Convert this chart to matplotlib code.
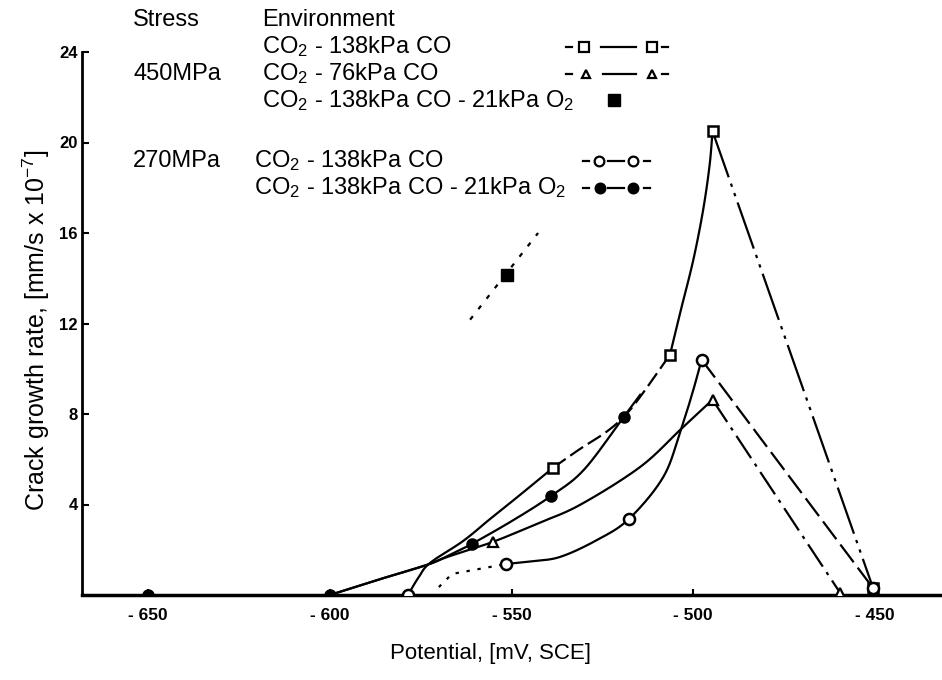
import numpy as np
import matplotlib
matplotlib.use("Agg")
import matplotlib.pyplot as plt

plt.rcParams['font.family'] = ['Liberation Sans', 'DejaVu Sans']
plt.rcParams['mathtext.fontset'] = 'custom'
plt.rcParams['mathtext.rm'] = 'Liberation Sans'
plt.rcParams['mathtext.it'] = 'Liberation Sans:italic'
plt.rcParams['mathtext.bf'] = 'Liberation Sans:bold'

# ---------------- data ----------------
x_ticks = [-650, -600, -550, -500, -450]
x_tick_labels = ["- 650", "- 600", "- 550", "- 500", "- 450"]
y_ticks = [4, 8, 12, 16, 20, 24]
y_tick_labels = ["4", "8", "12", "16", "20", "24"]

# 450 MPa, CO2 - 138kPa CO (open squares): three traced pieces + straight descent
sq_a_x = [-578.5, -575.5, -572.4, -563.3, -555.9, -547.7, -538.6]
sq_a_y = [0.0, 0.8, 1.42, 2.39, 3.36, 4.42, 5.62]
sq_b_x = [-538.6, -531.2, -524.0, -519.1, -514.6, -506.4]
sq_b_y = [5.62, 6.45, 7.2, 7.88, 8.76, 10.62]
sq_c_x = [-506.4, -503.4, -500.0, -497.3, -495.5, -494.7]
sq_c_y = [10.62, 12.6, 14.8, 17.0, 19.0, 20.5]
sq_down_x = [-494.7, -450.5]
sq_down_y = [20.5, 0.3]
sq_mark_x = [-538.6, -506.4, -494.7, -450.5]
sq_mark_y = [5.62, 10.62, 20.5, 0.3]

# 450 MPa, CO2 - 76kPa CO (open triangles)
tr_trace_x = [-600.0, -587.0, -573.3, -567.7, -555.1, -543.0, -531.2, -514.6, -503.6, -494.7]
tr_trace_y = [0.0, 0.66, 1.33, 1.68, 2.35, 3.15, 3.98, 5.66, 7.3, 8.63]
tr_down_x = [-494.7, -459.6]
tr_down_y = [8.63, 0.1]
tr_mark_x = [-555.1, -494.7, -459.6]
tr_mark_y = [2.35, 8.63, 0.1]

# 450 MPa, CO2 - 138kPa CO - 21kPa O2 (filled square)
fsq_line_x = [-561.4, -542.7]
fsq_line_y = [12.17, 16.0]
fsq_mark_x = [-551.3]
fsq_mark_y = [14.16]

# 270 MPa, CO2 - 138kPa CO (open circles)
oc_dot_x = [-570.0, -566.4, -551.5]
oc_dot_y = [0.35, 0.93, 1.37]
oc_trace_x = [-551.5, -545.0, -536.7, -526.5, -517.7, -508.3, -503.6, -500.1, -497.7]
oc_trace_y = [1.37, 1.48, 1.68, 2.43, 3.36, 5.2, 7.2, 9.0, 10.4]
oc_down_x = [-497.7, -450.5]
oc_down_y = [10.4, 0.3]
oc_mark_x = [-578.5, -551.5, -517.7, -497.7, -450.5]
oc_mark_y = [0.0, 1.37, 3.36, 10.4, 0.3]

# 270 MPa, CO2 - 138kPa CO - 21kPa O2 (filled circles)
fc_trace_x = [-600.0, -587.0, -573.3, -566.0, -560.9, -549.6, -539.1, -530.0, -519.1, -514.6]
fc_trace_y = [0.0, 0.66, 1.33, 1.85, 2.26, 3.3, 4.38, 5.55, 7.88, 8.85]
fc_mark_x = [-650.0, -600.0, -560.9, -539.1, -519.1]
fc_mark_y = [0.0, 0.0, 2.26, 4.38, 7.88]


def catmull(xs, ys, n=20):
    P = np.column_stack([xs, ys]).astype(float)
    P = np.vstack([P[0], P, P[-1]])
    out = []
    t = np.linspace(0, 1, n, endpoint=False)[:, None]
    for i in range(1, len(P) - 2):
        p0, p1, p2, p3 = P[i - 1], P[i], P[i + 1], P[i + 2]
        seg = 0.5 * ((2 * p1) + (-p0 + p2) * t + (2 * p0 - 5 * p1 + 4 * p2 - p3) * t ** 2
                     + (-p0 + 3 * p1 - 3 * p2 + p3) * t ** 3)
        out.append(seg)
    out.append(P[-2][None])
    return np.vstack(out)


W, H = 942, 680
fig = plt.figure(figsize=(W / 100, H / 100), dpi=100)
ax = fig.add_axes([82 / W, 1 - 595 / H, (940 - 82) / W, (595 - 52) / H])
ax.set_xlim(-668.2, -432.1)
ax.set_ylim(0, 24)

LW = 1.6
K = 'black'

# squares
p = catmull(sq_a_x, sq_a_y)
ax.plot(p[:, 0], p[:, 1], color=K, lw=LW)
p = catmull(sq_b_x, sq_b_y)
ax.plot(p[:, 0], p[:, 1], color=K, lw=LW, dashes=(7, 2.5))
p = catmull(sq_c_x, sq_c_y)
ax.plot(p[:, 0], p[:, 1], color=K, lw=LW)
ax.plot(sq_down_x, sq_down_y, color=K, lw=LW, dashes=(22, 3, 1.5, 3, 1.5, 3))

# triangles
p = catmull(tr_trace_x, tr_trace_y)
ax.plot(p[:, 0], p[:, 1], color=K, lw=LW)
ax.plot(tr_down_x, tr_down_y, color=K, lw=LW, dashes=(12, 3, 1.5, 3))

# filled circles
p = catmull(fc_trace_x, fc_trace_y)
ax.plot(p[:, 0], p[:, 1], color=K, lw=LW)

# open circles
ax.plot(oc_dot_x, oc_dot_y, color=K, lw=LW, dashes=(1.5, 3.5))
p = catmull(oc_trace_x, oc_trace_y)
ax.plot(p[:, 0], p[:, 1], color=K, lw=LW)
ax.plot(oc_down_x, oc_down_y, color=K, lw=LW, dashes=(10, 3))

# filled square with dotted line
ax.plot(fsq_line_x, fsq_line_y, color=K, lw=LW, dashes=(2, 4))

# markers
ax.plot(sq_mark_x, sq_mark_y, ls='none', marker='s', ms=7, mfc='white', mec=K, mew=1.8, zorder=5)
ax.plot(tr_mark_x, tr_mark_y, ls='none', marker='^', ms=7, mfc='white', mec=K, mew=1.6, zorder=5)
ax.plot(fsq_mark_x, fsq_mark_y, ls='none', marker='s', ms=8, mfc=K, mec=K, zorder=5)
ax.plot(oc_mark_x, oc_mark_y, ls='none', marker='o', ms=8, mfc='white', mec=K, mew=1.8, zorder=6)
ax.plot(fc_mark_x, fc_mark_y, ls='none', marker='o', ms=8, mfc=K, mec=K, zorder=6)

# axes styling
for s in ['top', 'right']:
    ax.spines[s].set_visible(False)
ax.spines['bottom'].set_linewidth(2.5)
ax.spines['left'].set_linewidth(2.0)
ax.set_xticks(x_ticks)
ax.set_xticklabels(x_tick_labels, fontsize=12.5, fontweight='bold')
ax.set_yticks(y_ticks)
ax.set_yticklabels(y_tick_labels, fontsize=12, fontweight='bold')
ax.tick_params(axis='x', direction='in', length=4, width=1.5, pad=9)
ax.tick_params(axis='y', direction='in', length=5, width=1.5, pad=3)

ax.set_xlabel("Potential, [mV, SCE]", fontsize=16)
ax.xaxis.set_label_coords((490 - 82) / 858, (595 - 643) / 543)
ax.set_ylabel("Crack growth rate, [mm/s x 10$^{-7}$]", fontsize=18)
ax.yaxis.set_label_coords((52 - 82) / 858, (595 - 330) / 543)

# ---------------- legend block (pixel layout overlay) ----------------
lg = fig.add_axes([0, 0, 1, 1], facecolor='none')
lg.set_xlim(0, W)
lg.set_ylim(H, 0)
lg.axis('off')
FS = 17
lg.text(133, 20, "Stress", fontsize=FS, va='center', ha='left')
lg.text(262, 20, "Environment", fontsize=FS, va='center', ha='left')
lg.text(262, 47, "CO$_2$ - 138kPa CO", fontsize=FS, va='center', ha='left')
lg.text(133, 74, "450MPa", fontsize=FS, va='center', ha='left')
lg.text(262, 74, "CO$_2$ - 76kPa CO", fontsize=FS, va='center', ha='left')
lg.text(262, 101, "CO$_2$ - 138kPa CO - 21kPa O$_2$", fontsize=FS, va='center', ha='left')
lg.text(133, 161, "270MPa", fontsize=FS, va='center', ha='left')
lg.text(254, 161, "CO$_2$ - 138kPa CO", fontsize=FS, va='center', ha='left')
lg.text(254, 188, "CO$_2$ - 138kPa CO - 21kPa O$_2$", fontsize=FS, va='center', ha='left')


def sample(y, x0, x1, m1, m2, l0, l1, marker, fill, ms):
    lg.plot([x0, x0 + 6], [y, y], color=K, lw=1.6)
    lg.plot([l0, l1], [y, y], color=K, lw=1.6)
    lg.plot([x1 - 6, x1], [y, y], color=K, lw=1.6)
    lg.plot([m1, m2], [y, y], ls='none', marker=marker, ms=ms, mfc=fill, mec=K, mew=1.6)


sample(47, 566, 668, 584, 652, 601, 636, 's', 'white', 7)
sample(74, 566, 668, 586, 652, 603, 636, '^', 'white', 6)
lg.plot([614], [100], ls='none', marker='s', ms=8, mfc=K, mec=K)
sample(161, 583, 650, 599, 633, 608, 624, 'o', 'white', 7)
sample(188, 583, 650, 600, 633, 608, 624, 'o', K, 7)

fig.savefig("out.png", dpi=100)
